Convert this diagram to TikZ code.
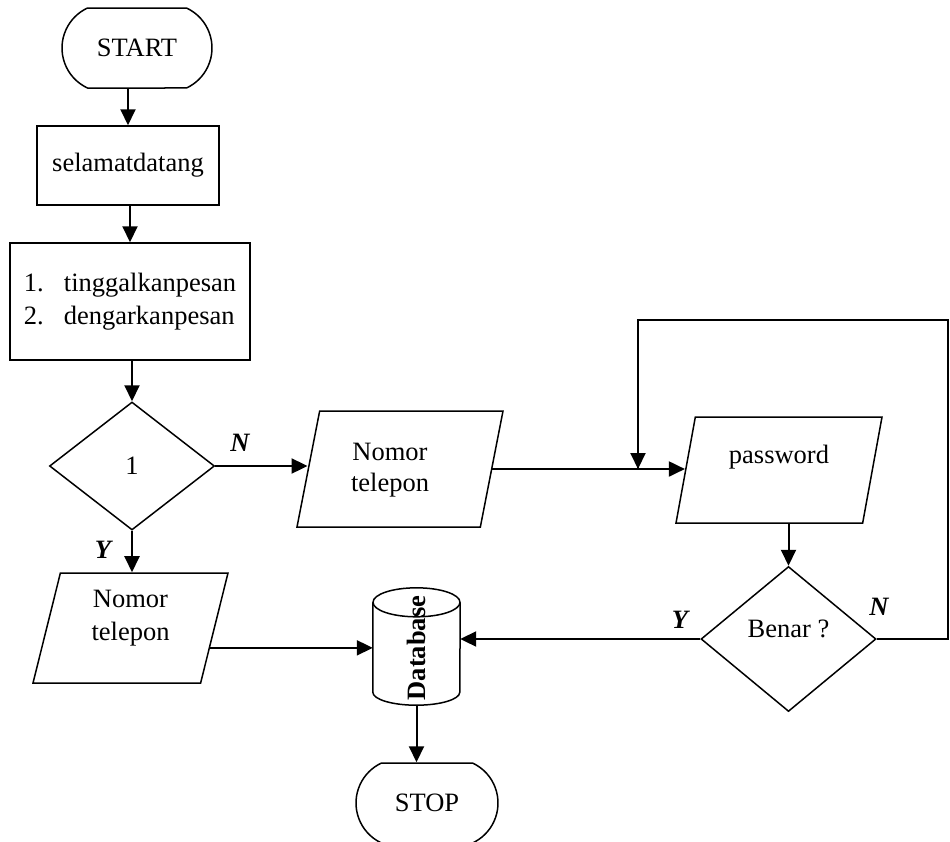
\documentclass[tikz,border=0pt]{standalone}
\usepackage{fontspec}
\setmainfont{Liberation Serif}
\usetikzlibrary{shapes.geometric,shapes.misc,arrows.meta}
\begin{document}
\begin{tikzpicture}[x=1pt,y=-1pt,
  every node/.style={font=\fontsize{26.5}{33}\selectfont, inner sep=0pt},
  shp/.style={draw, line width=1.5pt},
  term/.style={shp, rounded rectangle, rounded rectangle arc length=130, minimum width=150pt, minimum height=80pt},
  procbox/.style={shp, rectangle},
  decis/.style={shp, diamond},
  iobox/.style={shp, trapezium, trapezium stretches body, trapezium left angle=#1, trapezium right angle=180-#1},
  flow/.style={line width=2pt, -{Triangle[length=16pt,width=15pt]}},
  plain/.style={line width=2pt},
  yn/.style={font=\fontsize{26.5}{33}\selectfont\bfseries\itshape}
]
\useasboundingbox (0,0) rectangle (950,841);

\node[term] (start) at (137,48) {START};
\node[procbox, minimum width=182pt, minimum height=79pt] (sel) at (128,165.5) {selamatdatang};
\node[procbox, minimum width=240pt, minimum height=117pt, align=left] (menu) at (130,301.5)
  {\makebox[40pt][l]{1.}tinggalkanpesan\\\makebox[40pt][l]{2.}dengarkanpesan};
\node[decis, minimum width=165pt, minimum height=128pt] (d1) at (132,466) {1};
\node[iobox=70.5, minimum width=206pt, minimum height=116pt] (np1) at (400,469)
  {\hspace*{-20pt}\begin{tabular}{@{}c@{}}Nomor\\[-2pt]telepon\end{tabular}};
\node[iobox=69, minimum width=206pt, minimum height=106pt] (pw) at (779,470) {\rule[-32pt]{0pt}{0pt}password\hspace{10pt}};
\node[decis, minimum width=175pt, minimum height=145pt] (benar) at (788.5,639) {\rule[-20pt]{0pt}{0pt}Benar ?};
\node[iobox=70, minimum width=195pt, minimum height=110pt, align=center] (np2) at (130.5,628) {Nomor\\telepon\\[-18pt]\strut};
\node[minimum width=87pt, minimum height=117pt] (db) at (416.5,646.5) {};
\draw[line width=1.5pt] ([yshift=-14.5pt]db.north) ellipse [x radius=43.5pt, y radius=14.5pt];
\draw[line width=1.5pt] ([yshift=-14.5pt]db.north west) -- ([yshift=13pt]db.south west)
  arc[start angle=180, end angle=360, x radius=43.5pt, y radius=13pt] -- ([yshift=-14.5pt]db.north east);
\node[rotate=90, font=\fontsize{26.5}{33}\selectfont\bfseries] (dbt) at (416,648) {Database};
\node[term, minimum width=142pt] (stop) at (427,803) {STOP};

\coordinate (J) at (638,469);
\coordinate (loopR) at (948,639);
\coordinate (loopTR) at (948,320);
\coordinate (loopTL) at (638,320);

\draw[flow] (sel.north |- start.south) -- (sel.north);
\draw[flow] (menu.north |- sel.south) -- (menu.north);
\draw[flow] (d1.north |- menu.south) -- (d1.north);
\draw[flow] (d1.east) -- (np1.west |- d1.east);
\draw[flow] (np1.east) -- (np1.east -| pw.west);
\draw[flow] (benar.north |- pw.south) -- (benar.north);
\draw[flow] (d1.south) -- (d1.south |- np2.north);
\draw[flow] (np2.-14.4) -- (np2.-14.4 -| db.west);
\draw[flow] (benar.west) -- (db.east |- benar.west);
\draw[flow] (db.south) -- (db.south |- stop.north);
\draw[plain] (benar.east) -- (loopR) -- (loopTR) -- (loopTL) -- (J);
\draw[flow] (loopTL) -- (J);

\node[yn] (n1) at (240,443) {N};
\node[yn] (y1) at (103,550) {Y};
\node[yn] (y2) at (680,620) {Y};
\node[yn] (n2) at (879,607) {N};
\end{tikzpicture}
\end{document}
